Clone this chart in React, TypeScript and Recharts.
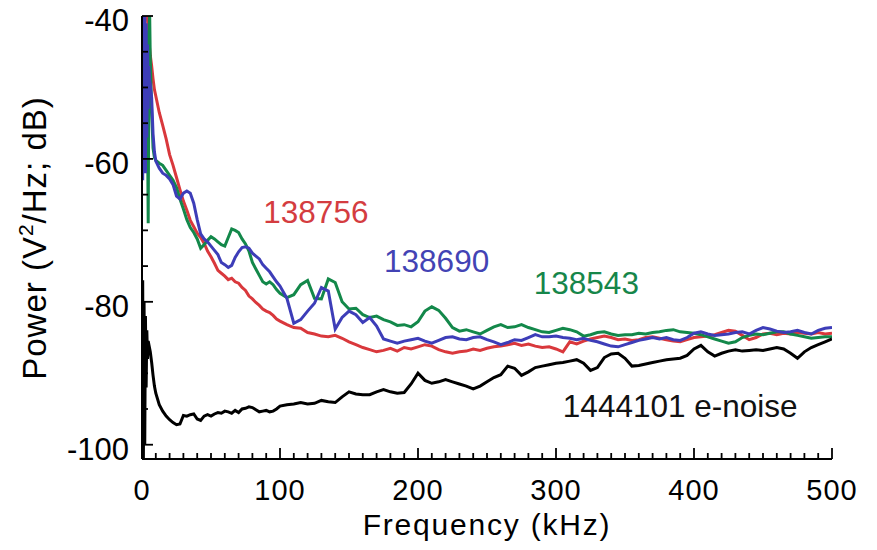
import React from "react";
import { LineChart, Line, XAxis, YAxis, ReferenceDot } from "recharts";

const FONT = '"Liberation Sans", Arial, Helvetica, sans-serif';

// frequency samples (kHz)
const freq = [
  0, 0.5, 1, 1.5, 2, 2.5, 3, 3.5, 4, 4.5, 5, 5.5, 6, 7, 8, 9,
  10, 12.5, 15, 17.5, 20, 22.5, 25, 27.5, 30, 32.5, 35, 37.5, 40, 42.5, 45, 47.5, 50,
  52.5, 55, 57.5, 60, 62.5, 65, 67.5, 70, 72.5, 75, 77.5, 80, 82.5, 85, 87.5, 90,
  92.5, 95, 97.5, 100,
  105, 110, 115, 120, 125, 130, 135, 140, 145, 150,
  155, 160, 165, 170, 175, 180, 185, 190, 195, 200,
  205, 210, 215, 220, 225, 230, 235, 240, 245, 250,
  255, 260, 265, 270, 275, 280, 285, 290, 295, 300,
  305, 310, 315, 320, 325, 330, 335, 340, 345, 350,
  355, 360, 365, 370, 375, 380, 385, 390, 395, 400,
  405, 410, 415, 420, 425, 430, 435, 440, 445, 450,
  455, 460, 465, 470, 475, 480, 485, 490, 495, 500,
];

// shot 138756 (red)
const shot138756 = [
  -38, -37, -38, -37, -38, -38.5, -39, -39.5, -40.5, -42, -43.5, -44.5, -45.5, -47, -48.8, -50.3,
  -51.2, -53.5, -55.3, -57.2, -59.4, -60.9, -62.6, -64.3, -65.9, -67.2, -68.6, -69.5, -70.4, -71.0, -71.8, -72.9, -73.7,
  -74.6, -75.6, -76.0, -76.4, -76.9, -76.7, -77.2, -77.4, -78.0, -78.4, -79.2, -79.6, -80.1, -80.5, -81.0, -81.3,
  -81.5, -81.9, -82.4, -82.7,
  -83.2, -83.6, -83.7, -84.3, -84.5, -84.8, -84.9, -84.7, -85.1, -85.6,
  -86.0, -86.4, -86.7, -87.0, -86.8, -86.5, -86.9, -86.4, -86.6, -86.3,
  -86.0, -86.2, -86.7, -87.0, -87.2, -87.0, -86.9, -86.6, -86.8, -86.5,
  -86.3, -86.2, -86.0, -85.8, -86.1, -85.9, -86.2, -86.4, -86.3, -86.6,
  -87.0, -85.6, -85.9, -85.5, -85.2, -85.0, -84.8, -85.0, -85.3, -85.2,
  -85.4, -85.3, -85.0, -84.9, -85.1, -85.3, -85.5, -85.6, -85.3, -85.0,
  -84.9, -84.8, -84.6, -84.3, -84.0, -84.1, -84.7, -85.3, -85.0, -84.5,
  -84.4, -84.6, -84.4, -84.5, -84.3, -84.4, -84.5, -84.3, -84.5, -84.4,
];

// shot 138690 (blue)
const shot138690 = [
  -38, -63, -38, -60, -39, -62, -41, -57, -44, -53, -47, -49, -49.5, -51.5, -56.5, -59,
  -60.3, -61.3, -62.0, -62.3, -62.8, -63.6, -65.2, -65.6, -64.8, -64.5, -64.8, -66.2, -68.5, -70.5, -71.2, -71.6, -72.2,
  -72.8, -73.4, -74.5, -74.8, -75.2, -74.9, -73.8, -73.0, -72.4, -72.3, -72.5, -73.2, -73.6, -74.0, -74.8, -75.3,
  -75.8, -76.5, -77.2, -77.8,
  -79.5, -83.0, -82.5, -81.3, -80.2, -78.0, -78.5, -83.8, -82.2, -81.3,
  -81.8, -82.9, -82.2, -83.4, -85.2, -85.5, -85.8, -85.5, -85.3, -85.1,
  -85.5, -85.8, -85.4, -85.0, -84.9, -85.2, -85.3, -85.0, -84.9, -85.3,
  -85.6, -86.0, -85.7, -85.3, -85.4, -85.0, -84.6, -84.9, -84.9, -84.8,
  -85.0, -85.1, -85.3, -85.1, -85.4, -85.6, -85.9, -86.2, -86.3, -86.0,
  -85.7, -85.4, -85.2, -85.0, -85.2, -85.0, -85.3, -85.4, -85.0, -84.4,
  -84.2, -84.5, -84.7, -84.6, -84.5, -84.3, -84.2, -84.5, -84.0, -83.6,
  -83.8, -84.1, -84.3, -84.2, -84.0, -84.3, -84.5, -84.0, -83.7, -83.6,
];

// shot 138543 (green)
const shot138543 = [
  -56, -60, -52, -58, -48, -44, -42, -47, -56, -69, -46, -39, -46, -53.5, -58.5, -59.8,
  -60.2, -60.6, -60.9, -61.6, -62.3, -63.0, -64.0, -65.6, -67.0, -68.5, -69.6, -70.3, -71.2, -72.5, -72.0, -71.4, -70.9,
  -71.2, -71.6, -72.0, -72.2, -71.0, -69.8, -70.0, -70.3, -71.2, -71.9, -72.9, -74.5, -75.4, -76.3, -77.2, -77.5,
  -77.2, -77.6, -78.3, -78.8,
  -79.4, -79.0, -77.6, -77.0, -79.5, -79.6, -76.8, -77.3, -80.0, -81.0,
  -80.9, -81.8, -82.2, -82.0, -82.5, -82.8, -83.3, -83.2, -83.5, -82.8,
  -81.3, -80.7, -81.2, -82.3, -83.6, -84.1, -83.9, -84.2, -84.5, -84.0,
  -83.5, -83.2, -83.6, -83.5, -83.2, -83.6, -83.9, -84.2, -84.3, -84.0,
  -83.7, -83.9, -84.2, -84.8, -84.6, -84.3, -84.2, -84.5, -84.7, -84.6,
  -84.6, -84.4, -84.5, -84.3, -84.2, -84.0, -83.9, -84.2, -84.3, -84.4,
  -84.6, -84.9, -85.2, -85.5, -85.8, -85.6, -85.0, -84.7, -84.5, -84.6,
  -84.4, -84.2, -84.2, -84.5, -84.7, -84.9, -85.1, -85.0, -84.9, -84.9,
];

// shot 1444101 electronics noise (black)
const eNoise = [
  -102, -77, -102, -80, -100, -82, -92, -84, -88, -85.5, -86, -86.5, -87, -88.5, -90.3, -91.8,
  -92.8, -94.4, -95.3, -96.0, -96.5, -96.9, -97.2, -97.1, -95.9, -96.0, -95.8, -95.7, -96.4, -96.6, -96.0, -95.8, -96.0,
  -95.7, -95.5, -95.6, -95.3, -95.4, -95.6, -95.2, -95.5, -95.0, -94.9, -94.7, -94.8, -95.1, -95.4, -95.3, -95.2,
  -95.4, -95.3, -95.0, -94.6,
  -94.4, -94.3, -94.1, -94.3, -94.2, -93.8, -94.0, -94.1, -93.3, -92.6,
  -92.9, -93.0, -93.0, -92.6, -92.3, -92.6, -92.8, -92.7, -91.5, -90.0,
  -91.0, -91.4, -91.2, -90.9, -91.2, -91.5, -91.8, -92.2, -91.8, -91.2,
  -90.6, -90.2, -89.0, -89.3, -90.3, -89.8, -89.2, -89.0, -88.8, -88.6,
  -88.5, -88.3, -88.1, -88.6, -89.6, -89.2, -87.8, -87.3, -87.2, -87.9,
  -89.0, -88.9, -88.7, -88.5, -88.3, -88.1, -88.0, -87.9, -87.5, -86.6,
  -86.1, -87.0, -87.6, -87.2, -86.9, -86.7, -86.9, -86.8, -86.7, -86.8,
  -86.6, -86.4, -86.6, -87.2, -87.9, -87.0, -86.4, -86.0, -85.6, -85.2,
];

const xTicks = [
  0, 10, 20, 30, 40, 50, 60, 70, 80, 90, 100, 110, 120, 130, 140, 150, 160, 170, 180, 190,
  200, 210, 220, 230, 240, 250, 260, 270, 280, 290, 300, 310, 320, 330, 340, 350, 360, 370,
  380, 390, 400, 410, 420, 430, 440, 450, 460, 470, 480, 490, 500,
];
const xLabels = [0, 100, 200, 300, 400, 500];
const yTicks = [-100, -95, -90, -85, -80, -75, -70, -65, -60, -55, -50, -45, -40];
const yLabels = [-100, -80, -60, -40];

const annotations = [
  { text: "138756", f: 126, db: -67.4, color: "#d43c40" },
  { text: "138690", f: 213.5, db: -74.2, color: "#4343b4" },
  { text: "138543", f: 322, db: -77.3, color: "#16864a" },
  { text: "1444101 e-noise", f: 390, db: -94.6, color: "#111111" },
];

const data = freq.map((f, i) => ({
  f,
  s138756: shot138756[i],
  s138690: shot138690[i],
  s138543: shot138543[i],
  noise: eNoise[i],
}));

const BottomTick = (props: any) => {
  const { x, y, payload } = props;
  const major = xLabels.includes(payload.value);
  const len = major ? 11 : 6;
  return (
    <g>
      <line x1={x} y1={y} x2={x} y2={y - len} stroke="#000" strokeWidth={1.8} />
      {major && (
        <text x={x} y={y + 20} dy="0.71em" textAnchor="middle" fontSize={29} fontFamily={FONT} fill="#000" letterSpacing={1}>
          {payload.value}
        </text>
      )}
    </g>
  );
};

const TopTick = (props: any) => {
  const { x, y, payload } = props;
  const len = xLabels.includes(payload.value) ? 11 : 6;
  return <line x1={x} y1={y} x2={x} y2={y + len} stroke="#000" strokeWidth={1.8} />;
};

const LeftTick = (props: any) => {
  const { x, y, payload } = props;
  const major = yLabels.includes(payload.value);
  const len = major ? 11 : 6;
  return (
    <g>
      <line x1={x} y1={y} x2={x + len} y2={y} stroke="#000" strokeWidth={1.8} />
      {major && (
        <text x={x - 13} y={y + 4} dy="0.355em" textAnchor="end" fontSize={31} fontFamily={FONT} fill="#000">
          {payload.value}
        </text>
      )}
    </g>
  );
};

const RightTick = (props: any) => {
  const { x, y, payload } = props;
  const len = yLabels.includes(payload.value) ? 11 : 6;
  return <line x1={x} y1={y} x2={x - len} y2={y} stroke="#000" strokeWidth={1.8} />;
};

const XTitle = () => (
  <text x={487} y={535} textAnchor="middle" fontSize={30} fontFamily={FONT} fill="#000" letterSpacing={1.8}>
    Frequency (kHz)
  </text>
);

const YTitle = () => (
  <text
    transform="rotate(-90)"
    x={-238}
    y={46}
    textAnchor="middle"
    fontSize={33}
    fontFamily={FONT}
    fill="#000"
    letterSpacing={1}
  >
    Power (V
    <tspan dy={-13} fontSize={21}>2</tspan>
    <tspan dy={13}>/Hz; dB)</tspan>
  </text>
);

const axisLine = { stroke: "#000", strokeWidth: 2 };

export default function App() {
  return (
    <div style={{ position: "absolute", left: 0, top: 0, width: 877, height: 550, background: "#fff" }}>
      <LineChart width={877} height={550} data={data} margin={{ top: 16, right: 45, bottom: 0, left: 0 }}>
        <XAxis
          dataKey="f"
          type="number"
          domain={[0, 500]}
          allowDataOverflow
          ticks={xTicks}
          interval={0}
          height={91}
          tickSize={0}
          tickMargin={0}
          tickLine={false}
          axisLine={axisLine}
          tick={<BottomTick />}
          label={{ content: <XTitle /> }}
        />
        <XAxis
          xAxisId="top"
          orientation="top"
          dataKey="f"
          type="number"
          domain={[0, 500]}
          allowDataOverflow
          ticks={xTicks}
          interval={0}
          height={0}
          tickSize={0}
          tickMargin={0}
          tickLine={false}
          axisLine={axisLine}
          tick={<TopTick />}
        />
        <YAxis
          type="number"
          domain={[-102, -40]}
          allowDataOverflow
          ticks={yTicks}
          interval={0}
          width={142}
          tickSize={0}
          tickMargin={0}
          tickLine={false}
          axisLine={axisLine}
          tick={<LeftTick />}
          label={{ content: <YTitle /> }}
        />
        <YAxis
          yAxisId="right"
          orientation="right"
          type="number"
          domain={[-102, -40]}
          allowDataOverflow
          ticks={yTicks}
          interval={0}
          width={0}
          tickSize={0}
          tickMargin={0}
          tickLine={false}
          axisLine={axisLine}
          tick={<RightTick />}
        />
        <Line dataKey="s138756" stroke="#d9383c" strokeWidth={3} dot={false} isAnimationActive={false} />
        <Line dataKey="s138543" stroke="#13884a" strokeWidth={3} dot={false} isAnimationActive={false} />
        <Line dataKey="s138690" stroke="#3d3db8" strokeWidth={3} dot={false} isAnimationActive={false} />
        <Line dataKey="noise" stroke="#000" strokeWidth={3} dot={false} isAnimationActive={false} />
        {annotations.map((a) => (
          <ReferenceDot
            key={a.text}
            x={a.f}
            y={a.db}
            r={0}
            fill="none"
            stroke="none"
            label={{ value: a.text, position: "center", fill: a.color, fontSize: 31.5, fontFamily: FONT }}
          />
        ))}
      </LineChart>
    </div>
  );
}
